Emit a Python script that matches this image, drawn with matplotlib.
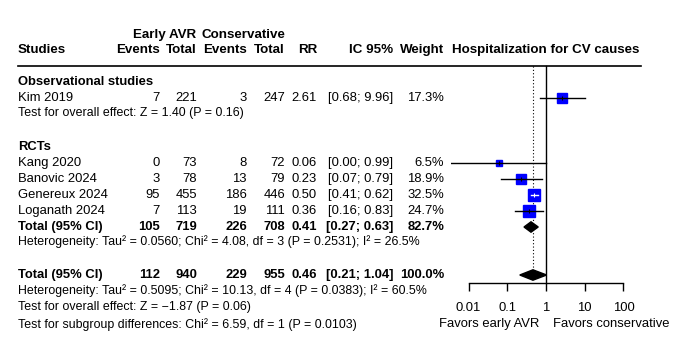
import matplotlib
matplotlib.use("Agg")
import matplotlib.pyplot as plt
import numpy as np

plt.rcParams['font.family'] = ['Liberation Sans', 'DejaVu Sans']

# ---------------- data ----------------
obs_studies = ["Kim 2019"]
obs_ev_e = [7]; obs_n_e = [221]; obs_ev_c = [3]; obs_n_c = [247]
obs_rr = [2.61]; obs_lo = [0.68]; obs_hi = [9.96]; obs_w = [17.3]

rct_studies = ["Kang 2020", "Banovic 2024", "Genereux 2024", "Loganath 2024"]
rct_ev_e = [0, 3, 95, 7]
rct_n_e = [73, 78, 455, 113]
rct_ev_c = [8, 13, 186, 19]
rct_n_c = [72, 79, 446, 111]
rct_rr = [0.06, 0.23, 0.50, 0.36]
rct_lo = [0.003, 0.07, 0.41, 0.16]
rct_hi = [0.99, 0.79, 0.62, 0.83]
rct_w = [6.5, 18.9, 32.5, 24.7]

rct_total = dict(ev_e=105, n_e=719, ev_c=226, n_c=708, rr=0.41, lo=0.27, hi=0.63, w=82.7)
all_total = dict(ev_e=112, n_e=940, ev_c=229, n_c=955, rr=0.46, lo=0.21, hi=1.04, w=100.0)

obs_test = "Test for overall effect: Z = 1.40 (P = 0.16)"
rct_het = "Heterogeneity: Tau\u00b2 = 0.0560; Chi\u00b2 = 4.08, df = 3 (P = 0.2531); I\u00b2 = 26.5%"
all_het = "Heterogeneity: Tau\u00b2 = 0.5095; Chi\u00b2 = 10.13, df = 4 (P = 0.0383); I\u00b2 = 60.5%"
all_test = "Test for overall effect: Z = \u22121.87 (P = 0.06)"
sub_test = "Test for subgroup differences: Chi\u00b2 = 6.59, df = 1 (P = 0.0103)"

xticks = [0.01, 0.1, 1, 10, 100]
xtick_labels = ["0.01", "0.1", "1", "10", "100"]
label_left = "Favors early AVR"
label_right = "Favors conservative"
plot_title = "Hospitalization for CV causes"

# ---------------- layout ----------------
W, H = 680, 352
fig = plt.figure(figsize=(W / 100, H / 100), dpi=100)
ax = fig.add_axes([0, 0, 1, 1])
ax.set_xlim(0, W); ax.set_ylim(H, 0); ax.axis('off')

FS = 9.4
FSB = 9.6
FS2 = 8.9
x_study = 18
col_ev_e, col_n_e, col_ev_c, col_n_c, col_rr, col_ci, col_w = 160, 197, 247, 285, 317, 393, 444

def row(y, name, ev_e, n_e, ev_c, n_c, rr, lo, hi, w, bold=False):
    fw = 'bold' if bold else 'normal'
    ax.text(x_study, y, name, fontsize=FS, fontweight=fw, va='center', ha='left')
    for x, v in zip([col_ev_e, col_n_e, col_ev_c, col_n_c], [ev_e, n_e, ev_c, n_c]):
        ax.text(x, y, str(v), fontsize=FS, fontweight=fw, va='center', ha='right')
    ax.text(col_rr, y, f"{rr:.2f}", fontsize=FS, fontweight=fw, va='center', ha='right')
    ax.text(col_ci, y, f"[{lo:.2f}; {hi:.2f}]", fontsize=FS, fontweight=fw, va='center', ha='right')
    ax.text(col_w, y, f"{w:.1f}%", fontsize=FS, fontweight=fw, va='center', ha='right')

# headers
ax.text(165, 35, "Early AVR", fontsize=FSB, fontweight='bold', va='center', ha='center')
ax.text(243, 35, "Conservative", fontsize=FSB, fontweight='bold', va='center', ha='center')
ax.text(x_study, 50, "Studies", fontsize=FSB, fontweight='bold', va='center', ha='left')
for x, t in zip([col_ev_e, col_n_e, col_ev_c, col_n_c, col_rr, col_ci, col_w],
                ["Events", "Total", "Events", "Total", "RR", "IC 95%", "Weight"]):
    ax.text(x, 50, t, fontsize=FSB, fontweight='bold', va='center', ha='right')
ax.plot([18, 641], [66, 66], color='black', lw=1.2)

# rows
y_obs_head = 82
y_obs = [98]
y_obs_test = 113
y_rct_head = 147
y_rct = [163, 179, 195, 211]
y_rct_tot = 227
y_rct_het = 242
y_all_tot = 275
y_all_het = 291
y_all_test = 307
y_sub = 325

ax.text(x_study, y_obs_head, "Observational studies", fontsize=FS, fontweight='bold', va='center')
for i, s in enumerate(obs_studies):
    row(y_obs[i], s, obs_ev_e[i], obs_n_e[i], obs_ev_c[i], obs_n_c[i], obs_rr[i], obs_lo[i], obs_hi[i], obs_w[i])
ax.text(x_study, y_obs_test, obs_test, fontsize=FS2, va='center')

ax.text(x_study, y_rct_head, "RCTs", fontsize=FS, fontweight='bold', va='center')
for i, s in enumerate(rct_studies):
    row(y_rct[i], s, rct_ev_e[i], rct_n_e[i], rct_ev_c[i], rct_n_c[i], rct_rr[i], rct_lo[i], rct_hi[i], rct_w[i])
t = rct_total
row(y_rct_tot, "Total (95% CI)", t['ev_e'], t['n_e'], t['ev_c'], t['n_c'], t['rr'], t['lo'], t['hi'], t['w'], bold=True)
ax.text(x_study, y_rct_het, rct_het, fontsize=FS2, va='center')

t = all_total
row(y_all_tot, "Total (95% CI)", t['ev_e'], t['n_e'], t['ev_c'], t['n_c'], t['rr'], t['lo'], t['hi'], t['w'], bold=True)
ax.text(x_study, y_all_het, all_het, fontsize=FS2, va='center')
ax.text(x_study, y_all_test, all_test, fontsize=FS2, va='center')
ax.text(x_study, y_sub, sub_test, fontsize=FS2, va='center')

# ---------------- forest axes ----------------
half = 95 / 38.7
fax = fig.add_axes([451 / W, 0, 190 / W, 1])
fax.set_xscale('log')
fax.set_xlim(10 ** -half, 10 ** half)
fax.set_ylim(H, 0)
fax.patch.set_visible(False)
for sp in ['top', 'left', 'right']:
    fax.spines[sp].set_visible(False)
fax.spines['bottom'].set_position(('data', 283))
fax.spines['bottom'].set_bounds(0.01, 100)
fax.spines['bottom'].set_linewidth(1.0)
fax.set_yticks([])
fax.set_xticks(xticks)
fax.set_xticklabels(xtick_labels, fontsize=FS)
fax.minorticks_off()
fax.tick_params(axis='x', direction='out', length=6, width=1.0, pad=8)

fax.text(1, 50, plot_title, fontsize=FSB, fontweight='bold', va='center', ha='center')
fax.text(1 / 1.52, 324, label_left, fontsize=FS, ha='right', va='center')
fax.text(1.52, 324, label_right, fontsize=FS, ha='left', va='center')

fax.plot([1, 1], [66, 283], color='black', lw=1.0)
fax.plot([all_total['rr']] * 2, [66, 270], color='black', lw=0.8, ls=(0, (1, 2)))

def study_mark(y, rr, lo, hi, w):
    side = 2.28 * np.sqrt(w) * 0.72
    fax.plot([rr], [y], marker='s', ms=side, color='#0000FF', mec='#0000FF', zorder=3)
    inside = (np.log10(rr) - np.log10(lo)) * 38.7 < side / 0.72 / 2 and (np.log10(hi) - np.log10(rr)) * 38.7 < side / 0.72 / 2
    c = 'white' if inside else 'black'
    fax.plot([lo, hi], [y, y], color=c, lw=1.0, zorder=4, clip_on=True)
    fax.plot([rr], [y], marker='|', ms=3, color=c, mew=0.8, zorder=5)

for i in range(len(obs_studies)):
    study_mark(y_obs[i], obs_rr[i], obs_lo[i], obs_hi[i], obs_w[i])
for i in range(len(rct_studies)):
    study_mark(y_rct[i], rct_rr[i], rct_lo[i], rct_hi[i], rct_w[i])

def diamond(y, rr, lo, hi, h=5.2):
    fax.fill([lo, rr, hi, rr], [y, y - h, y, y + h], color='black', zorder=4)

diamond(y_rct_tot, rct_total['rr'], rct_total['lo'], rct_total['hi'])
diamond(y_all_tot, all_total['rr'], all_total['lo'], all_total['hi'])

fig.savefig("out.png", dpi=100)
